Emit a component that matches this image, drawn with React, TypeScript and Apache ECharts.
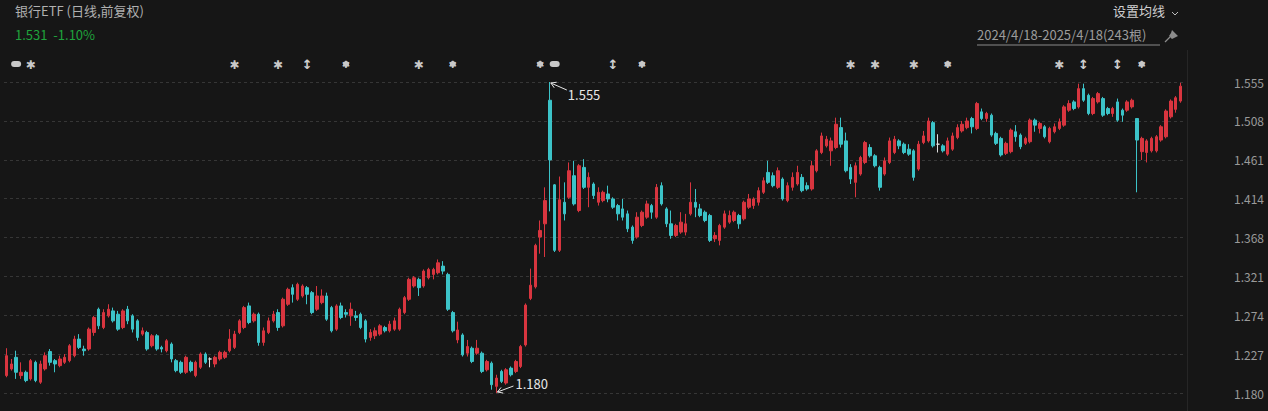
import React, { useEffect, useRef } from "react";
import * as echarts from "echarts";

// [open, close, low, high]
const ohlc: number[][] = [
  [1.201,1.225,1.199,1.234],[1.209,1.215,1.207,1.221],[1.223,1.205,1.197,1.231],[1.201,1.205,1.197,1.217],
  [1.205,1.195,1.193,1.207],[1.197,1.219,1.195,1.221],[1.217,1.195,1.193,1.219],[1.193,1.215,1.191,1.219],
  [1.209,1.225,1.207,1.229],[1.230,1.217,1.213,1.233],[1.219,1.215,1.205,1.221],[1.213,1.221,1.211,1.225],
  [1.217,1.223,1.215,1.227],[1.219,1.237,1.217,1.239],[1.225,1.245,1.223,1.249],[1.245,1.235,1.233,1.251],
  [1.233,1.231,1.225,1.237],[1.233,1.257,1.231,1.259],[1.253,1.271,1.249,1.273],[1.281,1.261,1.257,1.283],
  [1.259,1.277,1.257,1.281],[1.273,1.281,1.271,1.287],[1.279,1.267,1.265,1.283],[1.275,1.257,1.255,1.279],
  [1.259,1.279,1.257,1.281],[1.281,1.267,1.263,1.285],[1.273,1.257,1.253,1.275],[1.267,1.247,1.243,1.269],
  [1.251,1.255,1.249,1.259],[1.253,1.233,1.231,1.255],[1.237,1.249,1.235,1.251],[1.249,1.233,1.231,1.251],
  [1.235,1.233,1.229,1.237],[1.231,1.243,1.229,1.245],[1.239,1.221,1.217,1.241],[1.219,1.207,1.205,1.221],
  [1.217,1.205,1.203,1.219],[1.205,1.223,1.203,1.225],[1.217,1.207,1.205,1.219],[1.201,1.217,1.199,1.219],
  [1.211,1.227,1.209,1.229],[1.227,1.217,1.215,1.229],[1.221,1.221,1.211,1.223],[1.215,1.223,1.211,1.225],
  [1.221,1.229,1.219,1.231],[1.223,1.229,1.221,1.231],[1.231,1.245,1.229,1.257],[1.235,1.251,1.233,1.255],
  [1.253,1.267,1.251,1.269],[1.259,1.283,1.257,1.285],[1.285,1.265,1.263,1.289],[1.267,1.275,1.265,1.277],
  [1.275,1.241,1.237,1.277],[1.241,1.255,1.237,1.259],[1.253,1.267,1.251,1.271],[1.267,1.275,1.265,1.279],
  [1.277,1.259,1.255,1.281],[1.261,1.293,1.259,1.295],[1.287,1.305,1.285,1.307],[1.307,1.299,1.289,1.311],
  [1.293,1.311,1.291,1.313],[1.297,1.309,1.295,1.311],[1.307,1.299,1.287,1.309],[1.301,1.277,1.275,1.303],
  [1.281,1.297,1.279,1.309],[1.289,1.297,1.287,1.305],[1.297,1.269,1.267,1.301],[1.283,1.255,1.253,1.285],
  [1.257,1.285,1.255,1.287],[1.285,1.271,1.269,1.289],[1.277,1.275,1.271,1.281],[1.273,1.281,1.261,1.289],
  [1.273,1.271,1.267,1.279],[1.275,1.259,1.257,1.277],[1.267,1.245,1.241,1.269],[1.247,1.253,1.243,1.257],
  [1.249,1.255,1.245,1.259],[1.251,1.261,1.249,1.263],[1.259,1.255,1.253,1.261],[1.255,1.263,1.253,1.267],
  [1.257,1.267,1.255,1.271],[1.257,1.281,1.255,1.283],[1.277,1.295,1.275,1.297],[1.293,1.317,1.291,1.319],
  [1.309,1.319,1.307,1.321],[1.317,1.307,1.297,1.319],[1.309,1.327,1.307,1.329],[1.319,1.329,1.317,1.331],
  [1.323,1.329,1.317,1.331],[1.325,1.337,1.323,1.341],[1.333,1.327,1.323,1.339],[1.323,1.281,1.279,1.325],
  [1.277,1.255,1.253,1.279],[1.244,1.256,1.240,1.266],[1.250,1.226,1.224,1.252],[1.228,1.236,1.224,1.244],
  [1.234,1.218,1.216,1.236],[1.228,1.234,1.226,1.244],[1.228,1.206,1.204,1.230],[1.208,1.218,1.206,1.220],
  [1.216,1.190,1.184,1.218],[1.188,1.198,1.180,1.202],[1.206,1.194,1.192,1.208],[1.192,1.208,1.190,1.210],
  [1.210,1.202,1.200,1.212],[1.206,1.218,1.204,1.220],[1.212,1.236,1.210,1.238],[1.238,1.286,1.236,1.288],
  [1.294,1.310,1.292,1.330],[1.308,1.358,1.306,1.360],[1.368,1.376,1.348,1.388],[1.384,1.412,1.344,1.428],
  [1.533,1.461,1.399,1.555],[1.431,1.352,1.350,1.432],[1.352,1.413,1.350,1.441],[1.410,1.396,1.388,1.434],
  [1.416,1.448,1.414,1.458],[1.442,1.408,1.406,1.460],[1.400,1.454,1.398,1.456],[1.452,1.428,1.426,1.462],
  [1.428,1.440,1.404,1.446],[1.432,1.418,1.414,1.434],[1.410,1.422,1.406,1.428],[1.412,1.422,1.410,1.424],
  [1.420,1.414,1.410,1.430],[1.414,1.404,1.402,1.416],[1.406,1.396,1.388,1.408],[1.402,1.392,1.388,1.414],
  [1.396,1.378,1.374,1.400],[1.380,1.364,1.360,1.382],[1.368,1.392,1.366,1.398],[1.382,1.398,1.380,1.400],
  [1.392,1.408,1.390,1.412],[1.406,1.398,1.390,1.408],[1.392,1.428,1.390,1.432],[1.430,1.408,1.406,1.434],
  [1.402,1.384,1.380,1.404],[1.384,1.370,1.366,1.400],[1.370,1.382,1.368,1.384],[1.374,1.386,1.372,1.398],
  [1.374,1.384,1.370,1.396],[1.396,1.410,1.394,1.434],[1.410,1.404,1.392,1.426],[1.402,1.394,1.392,1.408],
  [1.398,1.388,1.386,1.400],[1.394,1.364,1.362,1.396],[1.366,1.370,1.362,1.374],[1.364,1.382,1.358,1.384],
  [1.380,1.396,1.378,1.400],[1.386,1.394,1.384,1.400],[1.388,1.398,1.386,1.400],[1.394,1.384,1.378,1.396],
  [1.390,1.410,1.388,1.412],[1.404,1.414,1.402,1.420],[1.406,1.414,1.402,1.416],[1.410,1.424,1.406,1.428],
  [1.422,1.436,1.420,1.440],[1.446,1.434,1.432,1.460],[1.442,1.430,1.428,1.446],[1.428,1.448,1.426,1.452],
  [1.438,1.414,1.412,1.440],[1.412,1.430,1.410,1.434],[1.428,1.440,1.424,1.446],[1.432,1.446,1.430,1.454],
  [1.440,1.424,1.422,1.444],[1.430,1.426,1.424,1.434],[1.426,1.454,1.424,1.460],[1.448,1.472,1.446,1.474],
  [1.470,1.490,1.468,1.494],[1.478,1.486,1.476,1.490],[1.472,1.484,1.454,1.488],[1.476,1.504,1.474,1.512],
  [1.500,1.480,1.476,1.512],[1.484,1.448,1.446,1.494],[1.452,1.438,1.432,1.456],[1.434,1.454,1.416,1.458],
  [1.444,1.464,1.442,1.466],[1.458,1.482,1.456,1.484],[1.476,1.466,1.464,1.480],[1.466,1.454,1.452,1.468],
  [1.452,1.428,1.424,1.454],[1.444,1.460,1.442,1.464],[1.458,1.484,1.456,1.488],[1.470,1.486,1.468,1.490],
  [1.484,1.478,1.474,1.486],[1.480,1.470,1.468,1.482],[1.474,1.468,1.466,1.480],[1.472,1.440,1.436,1.474],
  [1.450,1.480,1.448,1.484],[1.482,1.490,1.480,1.496],[1.484,1.508,1.482,1.512],[1.506,1.478,1.476,1.508],
  [1.480,1.480,1.470,1.492],[1.478,1.472,1.470,1.480],[1.468,1.484,1.466,1.488],[1.474,1.490,1.472,1.494],
  [1.488,1.500,1.486,1.504],[1.496,1.504,1.494,1.508],[1.500,1.508,1.498,1.512],[1.511,1.501,1.493,1.513],
  [1.499,1.529,1.497,1.531],[1.519,1.511,1.509,1.523],[1.511,1.517,1.507,1.519],[1.515,1.491,1.489,1.517],
  [1.493,1.481,1.479,1.495],[1.487,1.467,1.465,1.489],[1.469,1.481,1.467,1.483],[1.471,1.497,1.469,1.499],
  [1.495,1.489,1.483,1.503],[1.491,1.477,1.474,1.493],[1.481,1.487,1.479,1.489],[1.483,1.509,1.481,1.511],
  [1.509,1.503,1.495,1.511],[1.499,1.505,1.493,1.507],[1.501,1.489,1.487,1.503],[1.483,1.499,1.481,1.501],
  [1.495,1.501,1.493,1.505],[1.499,1.507,1.497,1.511],[1.503,1.525,1.501,1.527],[1.521,1.529,1.519,1.533],
  [1.531,1.523,1.521,1.533],[1.525,1.547,1.523,1.553],[1.547,1.533,1.531,1.553],[1.539,1.517,1.515,1.541],
  [1.517,1.535,1.515,1.537],[1.531,1.541,1.529,1.543],[1.535,1.515,1.513,1.537],[1.523,1.517,1.515,1.525],
  [1.517,1.523,1.513,1.525],[1.531,1.509,1.507,1.535],[1.521,1.515,1.507,1.523],[1.521,1.531,1.519,1.533],
  [1.525,1.533,1.523,1.535],[1.511,1.485,1.422,1.511],[1.471,1.487,1.461,1.489],[1.470,1.484,1.458,1.486],
  [1.472,1.487,1.470,1.489],[1.472,1.489,1.470,1.491],[1.485,1.501,1.483,1.503],[1.489,1.520,1.487,1.522],
  [1.513,1.532,1.511,1.534],[1.522,1.536,1.518,1.538],[1.532,1.550,1.530,1.554],
];

const categories: string[] = ohlc.map((_, i) => String(i));

const PRICE_MIN = 1.18;
const PRICE_MAX = 1.555;
const yTickLabels = ["1.180", "1.227", "1.274", "1.321", "1.368", "1.414", "1.461", "1.508", "1.555"];

// event markers above the chart: candle index + kind
const markerIdx = [2, 5, 47, 56, 62, 70, 85, 92, 110, 113, 125, 131, 174, 179, 187, 194, 217, 222, 229, 234];
const markerKind = ["pill", "star", "star", "star", "updown", "dot", "star", "dot", "dot", "pill", "updown", "dot",
  "star", "star", "star", "dot", "star", "updown", "updown", "dot"];

const titleText = "银行ETF (日线,前复权)";
const quoteText = "1.531  -1.10%";
const maText = "设置均线";
const rangeText = "2024/4/18-2025/4/18(243根)";

const RED = "#d8353f";
const CYAN = "#3cc3c8";
const FONT = "'Noto Sans CJK SC', 'Noto Sans', sans-serif";

export default function App() {
  const ref = useRef<HTMLDivElement>(null);
  useEffect(() => {
    if (!ref.current) return;
    const chart = echarts.init(ref.current, null, { renderer: "svg" });
    chart.setOption({
      animation: false,
      backgroundColor: "#161616",
      grid: { left: 4, right: 85, top: 82, bottom: 18 },
      xAxis: { type: "category", data: categories, show: false, boundaryGap: true },
      yAxis: [
        { type: "value", min: PRICE_MIN, max: PRICE_MAX, show: false, position: "right" },
        {
          type: "value", min: 0, max: 8, interval: 1, position: "right",
          axisLine: { show: false }, axisTick: { show: false },
          axisLabel: {
            color: "#9a9a9a", fontSize: 12, margin: 81, align: "right", fontFamily: FONT,
            formatter: (v: number) => yTickLabels[Math.round(v)] ?? "",
          },
          splitLine: { show: true, lineStyle: { color: "#363636", type: [3, 3], width: 1 } },
        },
      ],
      series: [
        {
          type: "candlestick", data: ohlc, barWidth: 3, yAxisIndex: 0,
          itemStyle: {
            color: RED, color0: CYAN, borderColor: RED, borderColor0: CYAN,
            borderColorDoji: "#dddddd", borderWidth: 1,
          },
        },
      ],
    });

    const pt = (i: number, v: number) =>
      chart.convertToPixel({ xAxisIndex: 0, yAxisIndex: 0 }, [categories[i], v]) as number[];

    const gfx: any[] = [];
    // header
    gfx.push({ type: "text", left: 15, top: 4, style: { text: titleText, fill: "#b0b0b0", font: `13px ${FONT}` } });
    gfx.push({ type: "text", left: 15, top: 28, style: { text: quoteText, fill: "#1fa33c", font: `13px ${FONT}` } });
    gfx.push({ type: "text", left: 1113, top: 4, style: { text: maText, fill: "#cfcfcf", font: `13px ${FONT}` } });
    gfx.push({ type: "polyline", shape: { points: [[1172, 12], [1175, 15], [1178, 12]] }, style: { stroke: "#bbbbbb", lineWidth: 1, fill: null } });
    gfx.push({ type: "text", left: 977, top: 28, style: { text: rangeText, fill: "#9c9c9c", font: `13px ${FONT}` } });
    gfx.push({ type: "line", shape: { x1: 977, y1: 45, x2: 1160, y2: 45 }, style: { stroke: "#8a8a8a", lineWidth: 1 } });
    // pin icon
    gfx.push({ type: "polygon", shape: { points: [[1172, 30], [1178, 36], [1176, 37], [1172, 39], [1169, 36], [1171, 33]] }, style: { fill: "#8c8c8c" } });
    gfx.push({ type: "line", shape: { x1: 1170, y1: 37, x2: 1165, y2: 42 }, style: { stroke: "#8c8c8c", lineWidth: 1.2 } });
    // separator
    gfx.push({ type: "line", shape: { x1: 1187.5, y1: 50, x2: 1187.5, y2: 411 }, style: { stroke: "#262626", lineWidth: 1 } });

    // markers
    const my = 64;
    markerIdx.forEach((idx, k) => {
      const x = pt(idx, PRICE_MAX)[0];
      const kind = markerKind[k];
      if (kind === "pill") {
        gfx.push({ type: "rect", shape: { x: x - 5, y: my - 3, width: 10, height: 6, r: 3 }, style: { fill: "#c8c8c8" } });
      } else if (kind === "star") {
        gfx.push({ type: "circle", shape: { cx: x, cy: my, r: 2 }, style: { fill: "#c8c8c8" } });
        gfx.push({ type: "text", x, y: my + 0.5, style: { text: "✱", fill: "#c8c8c8", font: `12px 'DejaVu Sans'`, align: "center", verticalAlign: "middle" } });
      } else if (kind === "dot") {
        gfx.push({ type: "circle", shape: { cx: x, cy: my, r: 3 }, style: { fill: "#c8c8c8" } });
        gfx.push({ type: "text", x, y: my + 0.5, style: { text: "✱", fill: "#c8c8c8", font: `10px 'DejaVu Sans'`, align: "center", verticalAlign: "middle" } });
      } else {
        gfx.push({ type: "text", x, y: my, style: { text: "↕", fill: "#d0d0d0", font: `bold 13px 'DejaVu Sans'`, align: "center", verticalAlign: "middle" } });
      }
    });

    // high / low annotations
    let hiI = 0, loI = 0;
    ohlc.forEach((d, i) => {
      if (d[3] > ohlc[hiI][3]) hiI = i;
      if (d[2] < ohlc[loI][2]) loI = i;
    });
    const arrow = (tip: number[], tail: number[]) => {
      const dx = tip[0] - tail[0], dy = tip[1] - tail[1];
      const len = Math.hypot(dx, dy);
      const ux = dx / len, uy = dy / len;
      const a = 5, w = 3;
      const p1 = [tip[0] - ux * a - uy * w, tip[1] - uy * a + ux * w];
      const p2 = [tip[0] - ux * a + uy * w, tip[1] - uy * a - ux * w];
      gfx.push({ type: "line", shape: { x1: tail[0], y1: tail[1], x2: tip[0], y2: tip[1] }, style: { stroke: "#e6e6e6", lineWidth: 1 } });
      gfx.push({ type: "polyline", shape: { points: [p1, tip, p2] }, style: { stroke: "#e6e6e6", lineWidth: 1, fill: null } });
    };
    const hp = pt(hiI, ohlc[hiI][3]);
    arrow([hp[0] + 1, hp[1] + 1], [hp[0] + 17, hp[1] + 8]);
    gfx.push({ type: "text", x: hp[0] + 18, y: hp[1] + 12, style: { text: ohlc[hiI][3].toFixed(3), fill: "#e6e6e6", font: `13px ${FONT}`, verticalAlign: "middle" } });
    const lp = pt(loI, ohlc[loI][2]);
    arrow([lp[0] + 1, lp[1] - 1], [lp[0] + 17, lp[1] - 7]);
    gfx.push({ type: "text", x: lp[0] + 19, y: lp[1] - 10, style: { text: ohlc[loI][2].toFixed(3), fill: "#e6e6e6", font: `13px ${FONT}`, verticalAlign: "middle" } });

    chart.setOption({ graphic: gfx });
    return () => chart.dispose();
  }, []);
  return <div ref={ref} style={{ position: "fixed", left: 0, top: 0, width: 1268, height: 411 }} />;
}
